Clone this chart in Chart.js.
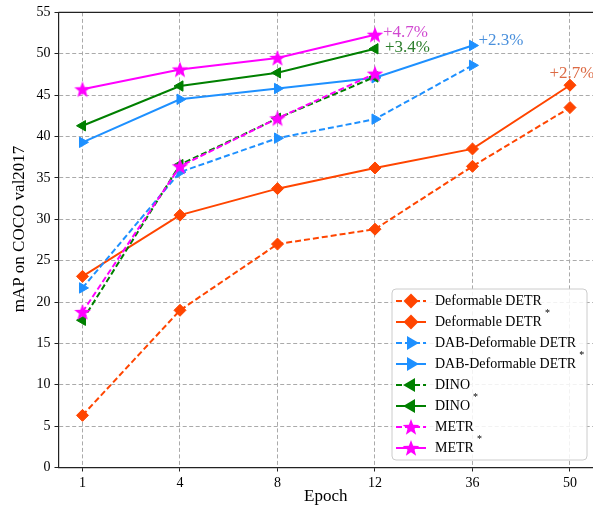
<!DOCTYPE html>
<html>
<head>
<meta charset="utf-8">
<script src="https://cdn.jsdelivr.net/npm/chart.js@4.4.1/dist/chart.umd.min.js"></script>
<style>
  html, body { margin: 0; padding: 0; background: #fff; overflow: hidden; }
  #wrap { width: 593px; height: 515px; }
</style>
</head>
<body>
<div id="wrap"><canvas id="mapchart" width="593" height="515"></canvas></div>
<script>
var epochs = ["1", "4", "8", "12", "36", "50"];

var deformable     = [6.3, 19.0, 27.0, 28.8, 36.4, 43.5];
var deformableStar = [23.1, 30.5, 33.7, 36.2, 38.5, 46.2];
var dab            = [21.7, 35.7, 39.8, 42.1, 48.6];
var dabStar        = [39.3, 44.5, 45.8, 47.1, 51.0];
var dino           = [17.8, 36.6, 42.2, 47.2];
var dinoStar       = [41.3, 46.1, 47.7, 50.6];
var metr           = [18.8, 36.4, 42.2, 47.6];
var metrStar       = [45.7, 48.1, 49.5, 52.3];

var gainLabels = ["+2.7%", "+2.3%", "+3.4%", "+4.7%"];

var ORANGE = '#ff4500';
var BLUE = '#1e90ff';
var GREEN = '#008000';
var MAGENTA = '#ff00ff';
var SERIF = '"Liberation Serif", "Times New Roman", serif';

// filled five point star used as marker
function makeStar(color, size) {
  var c = document.createElement('canvas');
  c.width = size; c.height = size;
  var g = c.getContext('2d');
  var cx = size / 2, cy = size / 2 + 0.7, ro = size / 2 - 0.3, ri = ro * 0.42;
  g.beginPath();
  for (var i = 0; i < 10; i++) {
    var r = i % 2 === 0 ? ro : ri;
    var a = -Math.PI / 2 + i * Math.PI / 5;
    g.lineTo(cx + r * Math.cos(a), cy + r * Math.sin(a));
  }
  g.closePath();
  g.fillStyle = color;
  g.fill();
  return c;
}
var starImg = makeStar(MAGENTA, 18);

function pts(arr) {
  return arr.map(function (v, i) { return { x: i, y: v }; });
}

function series(label, arr, color, style, rot, dashed, order) {
  return {
    label: label,
    data: pts(arr),
    borderColor: color,
    backgroundColor: color,
    borderWidth: 2,
    borderDash: dashed ? [6, 3] : [],
    pointStyle: style,
    pointRotation: rot,
    pointRadius: 6,
    pointHoverRadius: 6,
    pointBorderWidth: 1,
    pointBorderColor: color,
    pointBackgroundColor: color,
    fill: false,
    tension: 0,
    order: order
  };
}

var datasets = [
  series('Deformable DETR', deformable, ORANGE, 'rectRot', 0, true, 8),
  series('Deformable DETR', deformableStar, ORANGE, 'rectRot', 0, false, 7),
  series('DAB-Deformable DETR', dab, BLUE, 'triangle', 90, true, 6),
  series('DAB-Deformable DETR', dabStar, BLUE, 'triangle', 90, false, 5),
  series('DINO', dino, GREEN, 'triangle', -90, true, 4),
  series('DINO', dinoStar, GREEN, 'triangle', -90, false, 3),
  series('METR', metr, MAGENTA, starImg, 0, true, 2),
  series('METR', metrStar, MAGENTA, starImg, 0, false, 1)
];

var decorPlugin = {
  id: 'decor',
  afterDatasetsDraw: function (chart) {
    var ctx = chart.ctx;
    var a = chart.chartArea;
    var xs = chart.scales.x, ys = chart.scales.y;

    // top frame line
    ctx.save();
    ctx.strokeStyle = '#222';
    ctx.lineWidth = 1.2;
    ctx.beginPath();
    ctx.moveTo(a.left, a.top);
    ctx.lineTo(a.right, a.top);
    ctx.stroke();

    // gain annotations
    ctx.font = '17px ' + SERIF;
    ctx.textBaseline = 'middle';
    ctx.textAlign = 'left';
    ctx.fillStyle = '#d048d0';
    ctx.fillText(gainLabels[3], xs.getPixelForValue(3) + 8, ys.getPixelForValue(metrStar[3]) - 2);
    ctx.fillStyle = '#2a7d2a';
    ctx.fillText(gainLabels[2], xs.getPixelForValue(3) + 10, ys.getPixelForValue(dinoStar[3]) - 1);
    ctx.fillStyle = '#4a90dc';
    ctx.fillText(gainLabels[1], xs.getPixelForValue(4) + 6, ys.getPixelForValue(dabStar[4]) - 5);
    ctx.fillStyle = '#dc6a44';
    ctx.textAlign = 'center';
    ctx.fillText(gainLabels[0], xs.getPixelForValue(5) + 2, ys.getPixelForValue(deformableStar[5]) - 12);
    ctx.restore();
  },
  afterDraw: function (chart) {
    var ctx = chart.ctx;
    var a = chart.chartArea;

    // axis titles
    ctx.save();
    ctx.fillStyle = '#000';
    ctx.font = '17px ' + SERIF;
    ctx.textAlign = 'center';
    ctx.textBaseline = 'middle';
    ctx.fillText('Epoch', (a.left + a.right) / 2, 497);
    ctx.translate(20, 229);
    ctx.rotate(-Math.PI / 2);
    ctx.fillText('mAP on COCO val2017', 0, 0);
    ctx.restore();

    // legend
    var bx = 392, by = 289, bw = 195, bh = 171;
    ctx.save();
    ctx.beginPath();
    ctx.roundRect(bx, by, bw, bh, 4);
    ctx.fillStyle = 'rgba(255,255,255,0.85)';
    ctx.fill();
    ctx.strokeStyle = '#cccccc';
    ctx.lineWidth = 1;
    ctx.stroke();

    datasets.forEach(function (ds, i) {
      var y = 301 + i * 21;
      ctx.save();
      ctx.strokeStyle = ds.borderColor;
      ctx.lineWidth = 2;
      ctx.setLineDash(ds.borderDash);
      ctx.beginPath();
      ctx.moveTo(396, y);
      ctx.lineTo(426, y);
      ctx.stroke();
      ctx.setLineDash([]);
      ctx.fillStyle = ds.backgroundColor;
      Chart.helpers.drawPoint(ctx, {
        pointStyle: ds.pointStyle,
        radius: 6,
        rotation: ds.pointRotation,
        borderWidth: 1
      }, 411, y);
      ctx.restore();

      ctx.fillStyle = '#000';
      ctx.font = '14px ' + SERIF;
      ctx.textAlign = 'left';
      ctx.textBaseline = 'middle';
      ctx.fillText(ds.label, 435, y);
      if (i % 2 === 1) {
        var w = ctx.measureText(ds.label).width;
        ctx.font = '10px ' + SERIF;
        ctx.fillText('*', 435 + w + 3, y - 9);
      }
    });
    ctx.restore();
  }
};

var ctx = document.getElementById('mapchart').getContext('2d');
window.mapChart = new Chart(ctx, {
  type: 'line',
  data: { datasets: datasets },
  plugins: [decorPlugin],
  options: {
    responsive: false,
    animation: false,
    layout: { autoPadding: false, padding: { top: 12, left: 0, right: 0, bottom: 0 } },
    plugins: {
      legend: { display: false },
      tooltip: { enabled: false }
    },
    scales: {
      x: {
        type: 'linear',
        min: -0.246,
        max: 5.236,
        afterBuildTicks: function (scale) {
          scale.ticks = epochs.map(function (e, i) { return { value: i }; });
        },
        afterFit: function (scale) {
          scale.height = 47.5;
          scale.paddingLeft = 0;
          scale.paddingRight = 0;
        },
        ticks: {
          autoSkip: false,
          color: '#000',
          padding: 3,
          font: { family: SERIF, size: 14 },
          callback: function (v) { return epochs[v]; }
        },
        grid: {
          color: '#aaaaaa',
          lineWidth: 1,
          tickLength: 4,
          tickColor: '#222',
          tickBorderDash: []
        },
        border: { display: true, color: '#222', width: 1.2, dash: [4, 2.5] }
      },
      y: {
        min: 0,
        max: 55,
        afterFit: function (scale) { scale.width = 58.5; },
        ticks: {
          stepSize: 5,
          color: '#000',
          padding: 4,
          font: { family: SERIF, size: 14 }
        },
        grid: {
          color: '#aaaaaa',
          lineWidth: 1,
          tickLength: 4,
          tickColor: '#222',
          tickBorderDash: []
        },
        border: { display: true, color: '#222', width: 1.2, dash: [4, 2.5] }
      }
    }
  }
});
</script>
</body>
</html>
